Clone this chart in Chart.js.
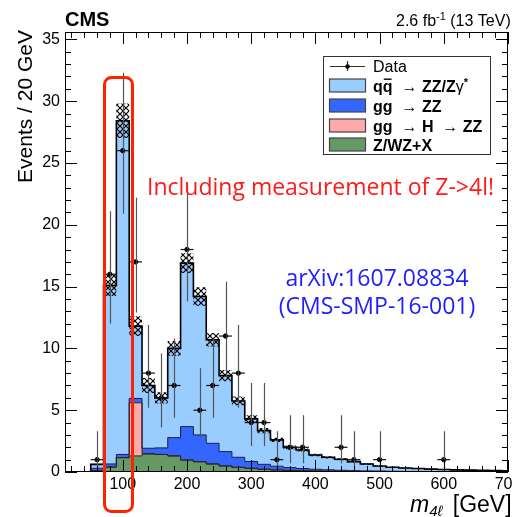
<!DOCTYPE html>
<html>
<head>
<meta charset="utf-8">
<script src="https://cdn.jsdelivr.net/npm/chart.js@4/dist/chart.umd.min.js"></script>
<style>
  html, body { margin: 0; padding: 0; background: #fff; }
</style>
</head>
<body>
<canvas id="m4l" width="513" height="517"></canvas>
<script>
// 20 GeV bins, centres in GeV
const binCenters = [60, 80, 100, 120, 140, 160, 180, 200, 220, 240, 260, 280, 300, 320, 340, 360, 380, 400, 420, 440, 460, 480, 500, 520, 540, 560, 580, 600, 620, 640, 660, 680, 700];

// expected events per bin for each process
const zxBkg = [0.1, 0.4, 1.15, 1.3, 1.45, 1.42, 1.3, 0.97, 0.83, 0.65, 0.49, 0.38, 0.3, 0.22, 0.17, 0.13, 0.1, 0.08, 0.06, 0.05, 0.04, 0.03, 0.03, 0.02, 0.02, 0.02, 0.01, 0.01, 0.01, 0.01, 0.01, 0.01, 0.01];
const ggH = [0, 0, 0.02, 4.3, 0.05, 0, 0, 0, 0, 0, 0, 0, 0, 0, 0, 0, 0, 0, 0, 0, 0, 0, 0, 0, 0, 0, 0, 0, 0, 0, 0, 0, 0];
const ggZZ = [0.2, 0.25, 0.25, 0.35, 0.42, 0.53, 1.48, 2.7, 2.17, 1.67, 1.16, 0.81, 0.55, 0.4, 0.3, 0.23, 0.18, 0.14, 0.12, 0.09, 0.07, 0.06, 0.05, 0.04, 0.03, 0.03, 0.025, 0.02, 0.02, 0.02, 0.015, 0.015, 0.01];
const qqZZ = [0.32, 14.45, 27.0, 5.85, 5.08, 4.05, 7.22, 13.23, 11.2, 8.38, 6.15, 4.56, 3.45, 2.73, 2.13, 1.64, 1.5, 1.16, 1.01, 0.89, 0.73, 0.56, 0.41, 0.32, 0.27, 0.23, 0.2, 0.17, 0.14, 0.125, 0.11, 0.09, 0.08];
// uncertainty on the total expectation (hatched band)
const sysUnc = [0.05, 0.85, 1.4, 0.8, 0.6, 0.45, 0.6, 0.8, 0.75, 0.55, 0.45, 0.35, 0.3, 0.22, 0.18, 0.15, 0.12, 0.1, 0.09, 0.08, 0.07, 0.06, 0.05, 0.04, 0.04, 0.03, 0.03, 0.03, 0.02, 0.02, 0.02, 0.02, 0.02];

// observed events (empty bins not drawn)
const dataX = [60, 80, 100, 120, 140, 160, 180, 200, 220, 240, 260, 280, 300, 320, 340, 360, 380, 440, 460, 500, 600];
const dataY = [1, 16, 26, 17, 8, 6, 7, 18, 5, 7, 11, 8, 4, 4, 1, 2, 2, 2, 1, 1, 1];
const dataLo = [0.17, 12.0, 20.9, 12.9, 5.2, 3.6, 4.4, 13.8, 2.8, 4.4, 7.7, 5.2, 2.1, 2.1, 0.17, 0.7, 0.7, 0.7, 0.17, 0.17, 0.17];
const dataHi = [3.3, 21.1, 32.3, 22.2, 11.9, 9.6, 10.8, 23.3, 8.4, 10.8, 15.4, 11.9, 7.2, 7.2, 3.3, 4.6, 4.6, 4.6, 3.3, 3.3, 3.3];

const xTickLabels = [100, 200, 300, 400, 500, 600, 700];
const yTickLabels = [0, 5, 10, 15, 20, 25, 30, 35];
const legendNames = ['Data', 'qq\u0304 \u2192 ZZ/Z\u03b3*', 'gg \u2192 ZZ', 'gg \u2192 H \u2192 ZZ', 'Z/WZ+X'];
const legendColors = [null, '#99ccff', '#3366ff', '#ffaaaa', '#669966'];

const SANS = '"Liberation Sans", Arial, "DejaVu Sans", sans-serif';
const NOTE = '"Open Sans", Lato, sans-serif';
const halfBin = (binCenters[1] - binCenters[0]) / 2;

// running sums of the stack, bottom to top
const cumZX = zxBkg.slice();
const cumH = cumZX.map((v, i) => v + ggH[i]);
const cumGG = cumH.map((v, i) => v + ggZZ[i]);
const cumAll = cumGG.map((v, i) => v + qqZZ[i]);
const bandHi = cumAll.map((v, i) => v + sysUnc[i]);
const bandLo = cumAll.map((v, i) => v - sysUnc[i]);

// histogram outline: start at the left edge on 0, then one point per right bin edge
function steps(vals) {
  const pts = [{ x: binCenters[0] - halfBin, y: 0 }];
  binCenters.forEach((c, i) => pts.push({ x: c + halfBin, y: vals[i] }));
  return pts;
}

const ctx = document.getElementById('m4l').getContext('2d');

function crossHatch() {
  const c = document.createElement('canvas');
  c.width = 6; c.height = 6;
  const g = c.getContext('2d');
  g.strokeStyle = '#000';
  g.lineWidth = 1.2;
  g.beginPath();
  g.moveTo(-1, -1); g.lineTo(7, 7);
  g.moveTo(7, -1); g.lineTo(-1, 7);
  g.stroke();
  return ctx.createPattern(c, 'repeat');
}

function histo(vals, bg, border, width, fillTo, order) {
  return {
    data: steps(vals),
    stepped: 'after',
    backgroundColor: bg,
    borderColor: border,
    borderWidth: width,
    fill: fillTo,
    pointRadius: 0,
    order: order
  };
}

function drawParts(c, x, y, parts) {
  parts.forEach(p => {
    c.font = p.font;
    const w = c.measureText(p.text).width;
    c.fillText(p.text, x, y + (p.dy || 0));
    if (p.bar) c.fillRect(x + 1, y + p.bar, w - 2, 1.4);
    x += w + (p.gap || 0);
  });
  return x;
}

// frame, inward ticks and tick labels
const axesPlugin = {
  id: 'rootAxes',
  afterDraw(chart) {
    const c = chart.ctx, a = chart.chartArea;
    const xs = chart.scales.x, ys = chart.scales.y;
    c.save();
    c.strokeStyle = '#000';
    c.lineWidth = 1;
    c.strokeRect(a.left + 0.5, a.top + 0.5, a.right - a.left - 1, a.bottom - a.top - 1);
    c.beginPath();
    for (let v = 0; v <= ys.max; v += 1) {
      const y = Math.round(ys.getPixelForValue(v)) + 0.5;
      const len = v % 5 === 0 ? 12 : 6;
      c.moveTo(a.left, y); c.lineTo(a.left + len, y);
      c.moveTo(a.right, y); c.lineTo(a.right - len, y);
    }
    for (let v = 20; v <= xs.max; v += 20) {
      const x = Math.round(xs.getPixelForValue(v)) + 0.5;
      const len = v % 100 === 0 ? 12 : 6;
      c.moveTo(x, a.bottom); c.lineTo(x, a.bottom - len);
      c.moveTo(x, a.top); c.lineTo(x, a.top + len);
    }
    c.stroke();

    c.fillStyle = '#000';
    c.font = '16px ' + SANS;
    c.textAlign = 'right';
    c.textBaseline = 'middle';
    yTickLabels.forEach(v => c.fillText(String(v), a.left - 5, ys.getPixelForValue(v)));
    c.textAlign = 'center';
    c.textBaseline = 'alphabetic';
    xTickLabels.forEach(v => c.fillText(String(v), xs.getPixelForValue(v), a.bottom + 17));

    // axis titles
    c.save();
    c.font = '21px ' + SANS;
    c.translate(32, a.top - 2);
    c.rotate(-Math.PI / 2);
    c.textAlign = 'right';
    c.fillText('Events / 20 GeV', 0, 0);
    c.restore();

    c.textAlign = 'left';
    drawParts(c, 410, 512, [
      { text: 'm', font: 'italic 23px ' + SANS },
      { text: '4\u2113', font: 'italic 15px ' + SANS, dy: 4, gap: 4 },
      { text: ' [GeV]', font: '23px ' + SANS }
    ]);
    c.restore();
  }
};

// data points: vertical Poisson intervals and bin-width horizontal bars
const errorBarPlugin = {
  id: 'errorBars',
  afterDatasetsDraw(chart) {
    const c = chart.ctx, xs = chart.scales.x, ys = chart.scales.y;
    c.save();
    c.lineWidth = 1.2;
    dataX.forEach((v, i) => {
      const x = Math.round(xs.getPixelForValue(v)) + 0.5;
      const y = ys.getPixelForValue(dataY[i]);
      c.strokeStyle = '#555';
      c.beginPath();
      c.moveTo(x, ys.getPixelForValue(dataLo[i]));
      c.lineTo(x, ys.getPixelForValue(dataHi[i]));
      c.stroke();
      c.strokeStyle = '#111';
      c.beginPath();
      c.moveTo(xs.getPixelForValue(v - halfBin), y);
      c.lineTo(xs.getPixelForValue(v + halfBin), y);
      c.stroke();
    });
    c.restore();
  }
};

// legend, header and the added notes
const labelsPlugin = {
  id: 'labels',
  afterDraw(chart) {
    const c = chart.ctx;
    c.save();
    c.textAlign = 'left';
    c.textBaseline = 'alphabetic';
    c.fillStyle = '#000';
    c.font = 'bold 20px ' + SANS;
    c.fillText('CMS', 65, 26);
    drawParts(c, 396, 26, [
      { text: '2.6 fb', font: '16px ' + SANS },
      { text: '-1', font: '11px ' + SANS, dy: -6 },
      { text: ' (13 TeV)', font: '16px ' + SANS }
    ]);

    // legend box
    const lx = 323, ly = 56, lw = 167, lh = 98;
    c.fillStyle = '#fff';
    c.fillRect(lx, ly, lw, lh);
    c.strokeStyle = '#333';
    c.lineWidth = 1;
    c.strokeRect(lx + 0.5, ly + 0.5, lw, lh);

    const rowY = [66, 85.5, 105.5, 125.5, 144.5];
    const B = 'bold 16px ' + SANS, N = '16px ' + SANS;
    // data marker
    c.strokeStyle = '#333';
    c.lineWidth = 1.2;
    c.beginPath();
    c.moveTo(330, rowY[0] + 0.5); c.lineTo(365, rowY[0] + 0.5);
    c.moveTo(347.5, rowY[0] - 5); c.lineTo(347.5, rowY[0] + 5);
    c.stroke();
    c.fillStyle = '#000';
    c.beginPath(); c.arc(347.5, rowY[0] + 0.5, 2.3, 0, Math.PI * 2); c.fill();
    c.font = N;
    c.fillText(legendNames[0], 373, rowY[0] + 6);

    for (let i = 1; i < legendNames.length; i++) {
      c.fillStyle = legendColors[i];
      c.fillRect(329, rowY[i] - 6.5, 36, 13);
      c.strokeStyle = '#444';
      c.strokeRect(329.5, rowY[i] - 6.5, 36, 13);
    }
    c.fillStyle = '#000';
    const base = 6;
    drawParts(c, 373, rowY[1] + base, [
      { text: 'q', font: B }, { text: 'q', font: B, bar: -13 },
      { text: '  \u2192 ', font: N }, { text: 'ZZ/Z', font: B },
      { text: '\u03b3', font: N }, { text: '*', font: 'bold 11px ' + SANS, dy: -6 }
    ]);
    drawParts(c, 373, rowY[2] + base, [
      { text: 'gg', font: B }, { text: '  \u2192 ', font: N }, { text: 'ZZ', font: B }
    ]);
    drawParts(c, 373, rowY[3] + base, [
      { text: 'gg', font: B }, { text: '  \u2192 ', font: N }, { text: 'H', font: B },
      { text: '  \u2192 ', font: N }, { text: 'ZZ', font: B }
    ]);
    drawParts(c, 373, rowY[4] + base, [{ text: legendNames[4], font: B }]);

    // highlight around the Z peak
    c.strokeStyle = '#ff2200';
    c.lineWidth = 3;
    c.beginPath();
    c.roundRect(104.5, 77.5, 28, 434, 7);
    c.stroke();

    c.fillStyle = '#ff1a1a';
    c.font = '23px ' + NOTE;
    c.fillText('Including measurement of Z->4l!', 147, 195);

    c.fillStyle = '#1e1eff';
    c.textAlign = 'center';
    c.fillText('arXiv:1607.08834', 377, 286);
    c.fillText('(CMS-SMP-16-001)', 377, 314);
    c.restore();
  }
};

const hatch = crossHatch();

new Chart(ctx, {
  type: 'line',
  data: {
    datasets: [
      {
        data: dataX.map((x, i) => ({ x: x, y: dataY[i] })),
        showLine: false,
        pointRadius: 2.2,
        pointBackgroundColor: '#000',
        pointBorderColor: '#000',
        order: 0
      },
      histo(bandHi, hatch, 'rgba(0,0,0,0)', 0, 2, 1),
      histo(bandLo, 'rgba(0,0,0,0)', 'rgba(0,0,0,0)', 0, false, 2),
      histo(cumAll, '#99ccff', '#000', 1.6, 4, 3),
      histo(cumGG, '#3366ff', '#1a1a40', 1, 5, 4),
      histo(cumH, '#ffaaaa', '#3a2020', 1, 6, 5),
      histo(cumZX, '#669966', '#1e2e1e', 1, 'origin', 6)
    ]
  },
  options: {
    responsive: false,
    animation: false,
    layout: { padding: { left: 65, right: 5, top: 32, bottom: 45 } },
    scales: {
      x: { type: 'linear', min: 10, max: 700, display: false },
      y: { type: 'linear', min: 0, max: 35.6, display: false }
    },
    elements: { line: { tension: 0 } },
    plugins: {
      legend: { display: false },
      tooltip: { enabled: false },
      filler: { drawTime: 'beforeDatasetsDraw' }
    }
  },
  plugins: [errorBarPlugin, axesPlugin, labelsPlugin]
});
</script>
</body>
</html>
